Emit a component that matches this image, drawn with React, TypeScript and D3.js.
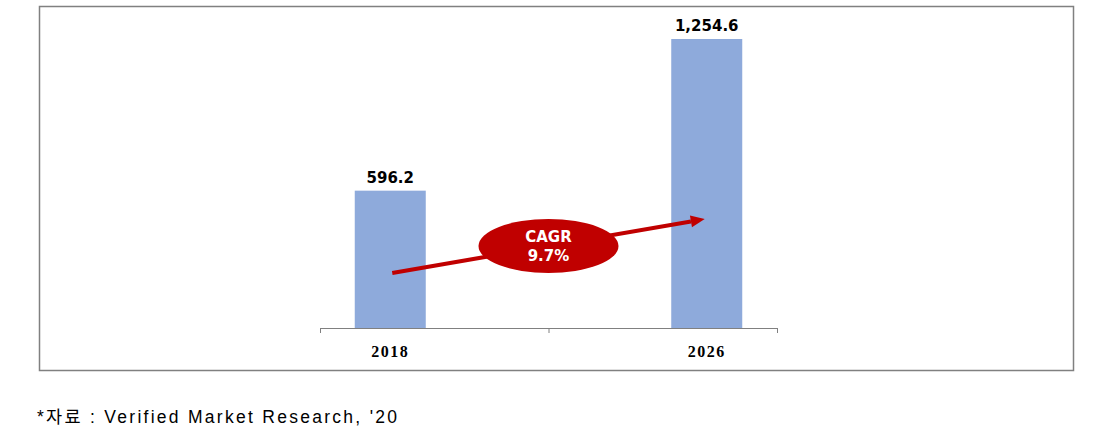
import React from 'react';
import * as d3 from 'd3';

// chart values
const years = ['2018', '2026'];
const values = [596.2, 1254.6];
const valueLabels = ['596.2', '1,254.6'];
const cagrLines = ['CAGR', '9.7%'];
// arrow start/end expressed in data units (category, value)
const arrowFrom: [string, number] = ['2018', 239];
const arrowTo: [string, number] = ['2026', 473];
const source = '*자료 : Verified Market Research, \'20';

const W = 1115;
const H = 445;
const RED = '#c00000';
const GRAY = '#808080';

const App: React.FC = () => {
  const axisLeft = 320;
  const axisRight = 777;
  const baseY = 328;

  const x = d3.scalePoint<string>().domain(years).range([axisLeft, axisRight]).padding(0.222);
  const band = d3.scaleBand<string>().domain(years).range([axisLeft, axisRight]);
  const y = d3.scaleLinear().domain([0, d3.max(values)!]).range([baseY, 39]);
  const barW = 71;

  const ticks = [...years.map(d => band(d)!), axisRight];

  // arrow geometry
  const x1 = x(arrowFrom[0])! + 2;
  const y1 = y(arrowFrom[1]);
  const x2 = x(arrowTo[0])! - 2;
  const y2 = y(arrowTo[1]);
  const ang = Math.atan2(y2 - y1, x2 - x1);
  const headLen = 14;
  const headW = 6;
  const bx = x2 - headLen * Math.cos(ang);
  const by = y2 - headLen * Math.sin(ang);
  const nx = -Math.sin(ang);
  const ny = Math.cos(ang);
  const head = [
    [x2, y2],
    [bx + nx * headW, by + ny * headW],
    [bx - nx * headW, by - ny * headW],
  ];

  const cx = (x(years[0])! + x(years[1])!) / 2;
  const cy = y(356);

  return (
    <svg width={W} height={H} style={{ position: 'absolute', left: 0, top: 0, background: '#fff' }}>
      {/* frame */}
      <rect x={39.5} y={6.5} width={1034} height={364} fill="none" stroke={GRAY} strokeWidth={1.5} />

      {/* bars */}
      {years.map((d, i) => (
        <g key={d}>
          <rect x={x(d)! - barW / 2} y={y(values[i])} width={barW} height={baseY - y(values[i])} fill="#8eaadb" />
          <text
            x={x(d)!}
            y={y(values[i]) - 8}
            textAnchor="middle"
            fontFamily="DejaVu Sans, Verdana, sans-serif"
            fontWeight="bold"
            fontSize={15}
            fill="#000"
          >
            {valueLabels[i]}
          </text>
          <text
            x={x(d)!}
            y={357}
            textAnchor="middle"
            fontFamily="Liberation Serif, Times New Roman, serif"
            fontWeight="bold"
            fontSize={16}
            letterSpacing={1.5}
            fill="#000"
          >
            {d}
          </text>
        </g>
      ))}

      {/* category axis */}
      <line x1={axisLeft} x2={axisRight} y1={baseY + 0.5} y2={baseY + 0.5} stroke={GRAY} strokeWidth={1} />
      {ticks.map((t, i) => (
        <line key={i} x1={t + 0.5} x2={t + 0.5} y1={baseY} y2={baseY + 5} stroke={GRAY} strokeWidth={1} />
      ))}

      {/* CAGR arrow */}
      <line x1={x1} y1={y1} x2={bx} y2={by} stroke={RED} strokeWidth={4} />
      <polygon points={head.map(p => p.join(',')).join(' ')} fill={RED} />
      <ellipse cx={cx} cy={cy} rx={70} ry={27} fill={RED} />
      {cagrLines.map((t, i) => (
        <text
          key={t}
          x={cx}
          y={cy - 4 + i * 19}
          textAnchor="middle"
          fontFamily="DejaVu Sans, Verdana, sans-serif"
          fontWeight="bold"
          fontSize={15}
          fill="#fff"
        >
          {t}
        </text>
      ))}

      {/* source note */}
      <text
        x={37}
        y={423}
        fontFamily="Liberation Sans, Noto Sans CJK KR, sans-serif"
        fontSize={17.5}
        textLength={360}
        lengthAdjust="spacing"
        fill="#000"
      >
        {source}
      </text>
    </svg>
  );
};

export default App;
